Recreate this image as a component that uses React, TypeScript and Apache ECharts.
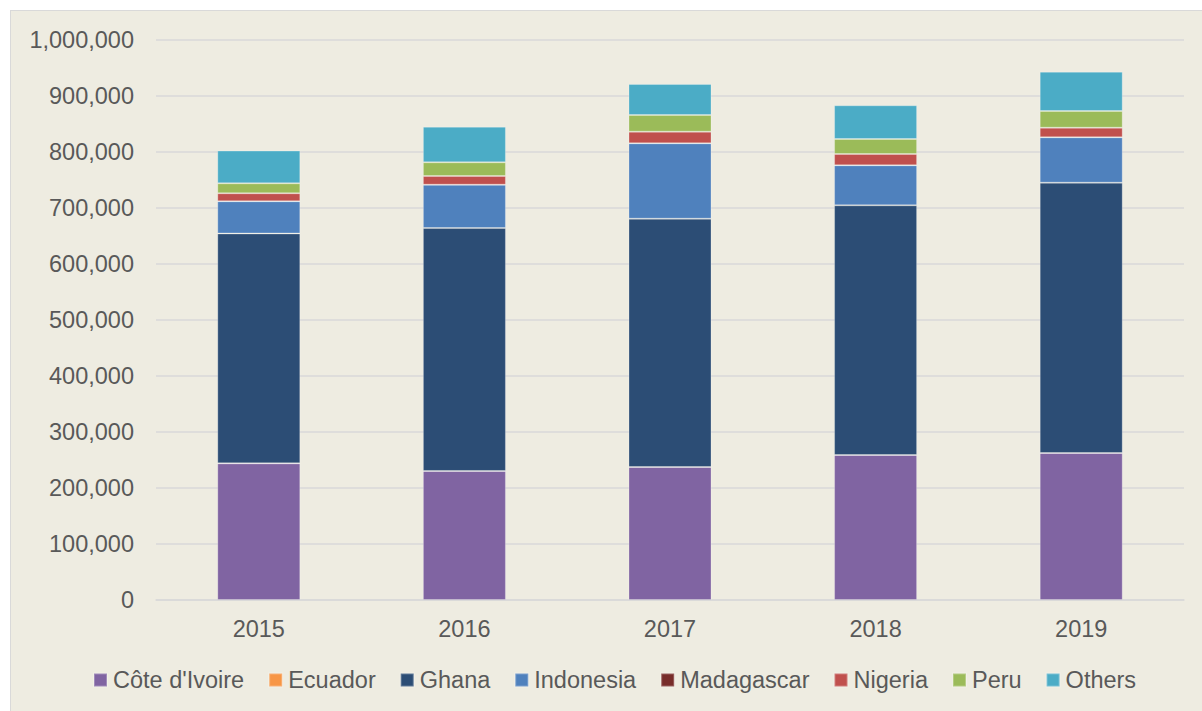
import React, { useEffect, useRef } from "react";
import * as echarts from "echarts";

const categories = ["2015", "2016", "2017", "2018", "2019"];
const seriesNames = ["Côte d'Ivoire", "Ecuador", "Ghana", "Indonesia", "Madagascar", "Nigeria", "Peru", "Others"];
const coteDIvoire = [244000, 230400, 237500, 258900, 262500];
const ecuador = [0, 0, 0, 0, 0];
const ghana = [410500, 433900, 443400, 445900, 482700];
const indonesia = [57500, 77300, 134600, 71400, 81000];
const madagascar = [0, 0, 0, 0, 0];
const nigeria = [14300, 15500, 20800, 20200, 17200];
const peru = [17800, 24500, 29800, 26800, 29800];
const others = [58400, 63600, 55300, 60200, 70200];
const colors = ["#8064A2", "#F79646", "#2C4D75", "#4F81BD", "#772C2A", "#C0504D", "#9BBB59", "#4BACC6"];

const seriesData = [coteDIvoire, ecuador, ghana, indonesia, madagascar, nigeria, peru, others];

export default function App() {
  const ref = useRef<HTMLDivElement>(null);
  useEffect(() => {
    if (!ref.current) return;
    const chart = echarts.init(ref.current, undefined, { renderer: "svg" });
    const font = "Liberation Sans, Arial, sans-serif";
    chart.setOption({
      animation: false,
      color: colors,
      grid: { left: 145, right: 18, top: 29, bottom: 111, containLabel: false },
      legend: {
        data: seriesNames,
        left: 77,
        top: 652,
        itemWidth: 13,
        itemHeight: 13,
        itemGap: 24,
        icon: "rect",
        textStyle: { color: "#595959", fontSize: 23.5, fontFamily: font, padding: [0, 0, 0, 1] },
      },
      xAxis: {
        type: "category",
        data: categories,
        axisLine: { lineStyle: { color: "#D9D9D9", width: 1.5 } },
        axisTick: { show: false },
        axisLabel: { color: "#595959", fontSize: 23.5, fontFamily: font, margin: 17 },
      },
      yAxis: {
        type: "value",
        min: 0,
        max: 1000000,
        interval: 100000,
        axisLine: { show: false },
        axisTick: { show: false },
        splitLine: { lineStyle: { color: "#D9D9D9", width: 1.5 } },
        axisLabel: {
          color: "#595959",
          fontSize: 23.5,
          fontFamily: font,
          margin: 22,
          formatter: (v: number) => v.toLocaleString("en-US"),
        },
      },
      series: seriesNames.map((name, i) => ({
        name,
        type: "bar",
        stack: "total",
        barWidth: 83,
        data: seriesData[i],
        itemStyle: { color: colors[i], borderColor: "rgba(255,255,255,0.25)", borderWidth: 1 },
      })),
    });
    return () => chart.dispose();
  }, []);
  return (
    <div style={{ position: "fixed", left: 0, top: 0, width: 1202, height: 711, background: "#FFFFFF" }}>
      <div
        style={{
          position: "absolute",
          left: 10,
          top: 10,
          width: 1192,
          height: 701,
          background: "#EEECE1",
          borderLeft: "1px solid #D9D9D9",
          borderTop: "1px solid #D9D9D9",
          boxSizing: "border-box",
        }}
      >
        <div ref={ref} style={{ position: "absolute", left: 0, top: 0, width: 1191, height: 700 }} />
      </div>
    </div>
  );
}
